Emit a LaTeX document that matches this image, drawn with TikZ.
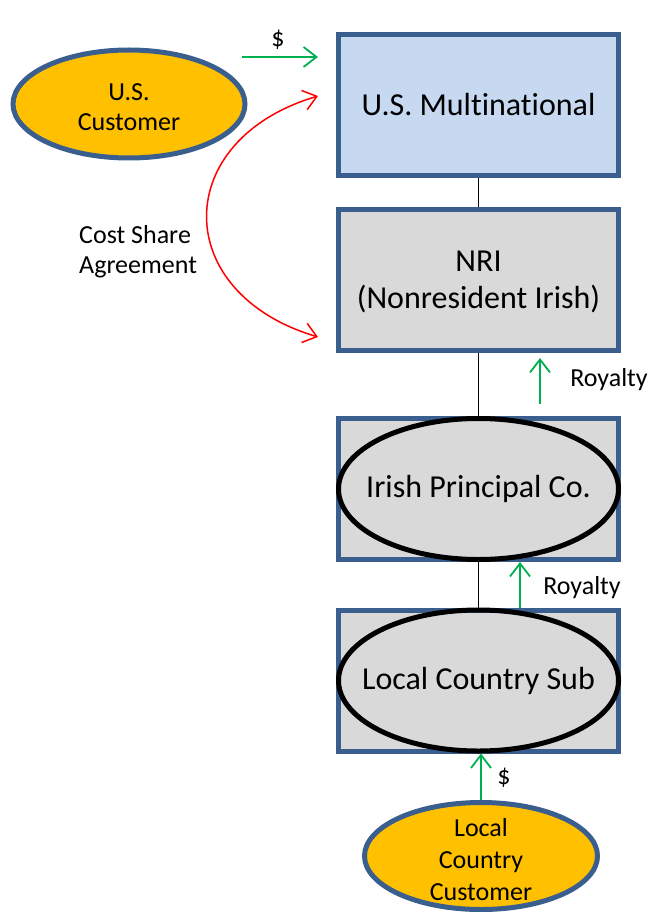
\documentclass[tikz,border=0pt]{standalone}
\usepackage{fontspec}
\setmainfont[Ligatures=NoCommon]{Carlito}
\usetikzlibrary{shapes.geometric,arrows.meta,calc}
\definecolor{edgeblue}{HTML}{3A5F8F}
\definecolor{paleblue}{HTML}{C6D9F1}
\definecolor{palegray}{HTML}{D9D9D9}
\definecolor{custorange}{HTML}{FFC000}
\definecolor{flowgreen}{HTML}{00B050}
\definecolor{flowred}{HTML}{FF0000}
\tikzset{
  entity/.style={rectangle, draw=edgeblue, line width=5pt, minimum width=280pt,
                 minimum height=141pt, inner sep=0pt},
  hub/.style={ellipse, draw=black, line width=5pt, minimum width=280pt,
              minimum height=141pt, inner sep=0pt},
  customer/.style={ellipse, draw=edgeblue, line width=5pt, fill=custorange, inner sep=0pt},
  bigtext/.style={font=\fontsize{32}{37}\selectfont, align=center, inner sep=0pt},
  smalltext/.style={font=\fontsize{26}{31.5}\selectfont, align=center, inner sep=0pt},
  link/.style={draw=black, line width=1.5pt},
  cashflow/.style={draw=flowgreen, line width=1.8pt, -{Straight Barb[length=13pt,width=20pt]}},
  costshare/.style={draw=flowred, line width=1.5pt,
                    {Straight Barb[length=13pt,width=20pt]}-{Straight Barb[length=13pt,width=20pt]}}
}
\begin{document}
\begin{tikzpicture}[x=1pt,y=-1pt]
  \useasboundingbox (0,0) rectangle (652,912);

  % corporate chain
  \node[entity, fill=paleblue] (usm) at (478.5,105) {};
  \node[bigtext] (usm-t) at (usm.center) {U.S. Multinational};
  \node[entity, fill=palegray] (nri) at (478.5,280) {};
  \node[bigtext] (nri-t) at (478.5,282) {NRI\\(Nonresident Irish)};
  \node[entity, fill=palegray] (ipc) at (478.5,489) {};
  \node[hub] (ipc-e) at (ipc.center) {};
  \node[bigtext] (ipc-t) at (ipc.center) {Irish Principal Co.};
  \node[entity, fill=palegray] (lcs) at (478.5,680.5) {};
  \node[hub] (lcs-e) at (lcs.center) {};
  \node[bigtext] (lcs-t) at (lcs.center) {Local Country Sub};

  \draw[link] (usm.south) -- (nri.north);
  \draw[link] (nri.south) -- (ipc-e.north);
  \draw[link] (ipc-e.south) -- (lcs-e.north);

  % customers
  \node[customer, minimum width=232pt, minimum height=108pt] (usc) at (129,104) {};
  \node[smalltext, font=\fontsize{26}{30}\selectfont] (usc-t) at (129,107) {U.S.\\Customer};
  \node[customer, minimum width=233pt, minimum height=107pt] (lcc) at (481,856) {};
  \node[smalltext, font=\fontsize{26}{32}\selectfont] (lcc-t) at (481,860) {Local\\Country\\Customer};

  % payment flows
  \coordinate (pay-from) at (242,57);
  \coordinate (pay-to) at (318,57);
  \draw[cashflow] (pay-from) -- (pay-to);
  \node[smalltext] (pay-l) at (278,40) {\$};

  \coordinate (roy1-x) at (540,0);
  \coordinate (roy1-from) at (540,404);
  \draw[cashflow] (roy1-from) -- ([yshift=-5pt]nri.south -| roy1-x);
  \node[smalltext] (roy1-l) at (609,380) {Royalty};

  \coordinate (roy2-x) at (520,0);
  \draw[cashflow] (lcs.north -| roy2-x) -- (ipc.south -| roy2-x);
  \node[smalltext] (roy2-l) at (582,588) {Royalty};

  \draw[cashflow] (lcc.north) -- (lcs.south -| lcc.north);
  \node[smalltext] (sale-l) at (504,778) {\$};

  % cost sharing
  \coordinate (cs-top) at (318,96);
  \coordinate (cs-bot) at (318,337);
  \draw[costshare] (cs-top) .. controls (170,140) and (170,293) .. (cs-bot);
  \node[smalltext, font=\fontsize{26}{30}\selectfont, align=left, anchor=west] (cs-l) at (79,252) {Cost Share\\Agreement};
\end{tikzpicture}
\end{document}
